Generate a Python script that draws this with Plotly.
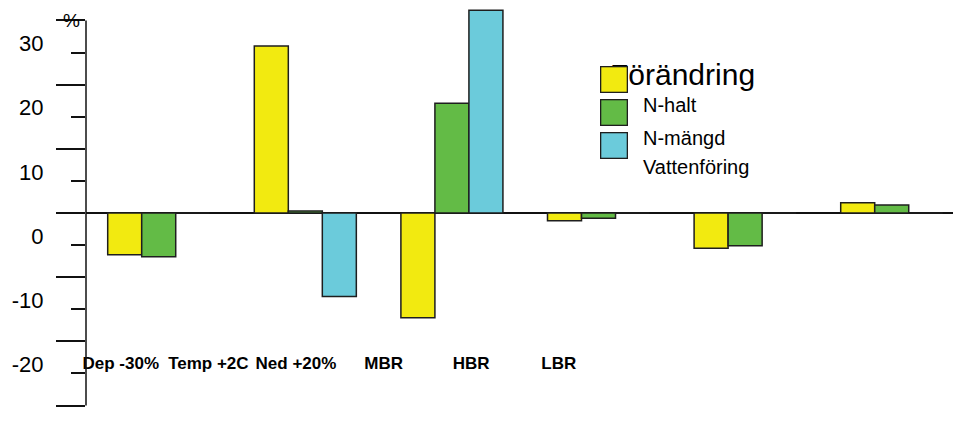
import plotly.graph_objects as go

# Categories and series (percent change)
categories = ["Dep -30%", "Temp +2C", "Ned +20%", "MBR", "HBR", "LBR"]
series_names = ["N-halt", "N-mängd", "Vattenföring"]
n_halt = [-6.5, 26.0, -16.3, -1.2, -5.5, 1.6]
n_mangd = [-6.8, 0.3, 17.1, -0.8, -5.1, 1.25]
vattenforing = [0.0, -13.0, 31.6, 0.0, 0.0, 0.0]
series_colors = ["#F2EA10", "#63BB46", "#6BCBDB"]
legend_title = "Förändring"
y_ticks = [-30, -20, -10, 0, 10, 20, 30]
y_unit = "%"

W, H = 953, 421
ML = 86
PW = W - ML


def px_x(px):
    return (px - ML) / PW


def px_y(py):
    return 1 - py / H


fig = go.Figure()
for name, vals, col in zip(series_names, [n_halt, n_mangd, vattenforing], series_colors):
    fig.add_trace(go.Bar(
        x=categories, y=vals, name=name,
        marker=dict(color=col, line=dict(color="#1e1e1e", width=1.5)),
        showlegend=False,
    ))

# helper trace so the label axis exists
fig.add_trace(go.Scatter(x=categories, y=[None] * len(categories), xaxis="x2",
                         mode="markers", showlegend=False, hoverinfo="skip"))

annotations = []
annotations.append(dict(
    x=px_x(71.5), y=px_y(20), xref="paper", yref="paper", text=y_unit,
    showarrow=False, font=dict(family="Liberation Sans", size=19, color="black"),
    xanchor="center", yanchor="middle"))

# legend title, then swatches drawn above it, then item labels
annotations.append(dict(
    x=px_x(608), y=px_y(74), xref="paper", yref="paper", text=legend_title,
    showarrow=False, font=dict(family="Liberation Sans", size=30, color="black"),
    xanchor="left", yanchor="middle"))
sw_centers = [79.2, 112.3, 145.2]
for col, cy in zip(series_colors, sw_centers):
    annotations.append(dict(
        x=px_x(613.9), y=px_y(cy), xref="paper", yref="paper", text=" ",
        showarrow=False, width=25, height=24, bgcolor=col, bordercolor="#1e1e1e",
        borderwidth=1.3, borderpad=0, xanchor="center", yanchor="middle"))
txt_centers = [103.3, 136.5, 165.5]
for name, cy in zip(series_names, txt_centers):
    annotations.append(dict(
        x=px_x(641), y=px_y(cy + 1.5), xref="paper", yref="paper", text=name,
        showarrow=False, font=dict(family="Liberation Sans", size=20, color="black"),
        xanchor="left", yanchor="middle"))

fig.update_layout(
    width=W, height=H,
    margin=dict(l=ML, r=0, t=0, b=0),
    paper_bgcolor="white", plot_bgcolor="white",
    barmode="group", bargap=0.304, bargroupgap=0,
    xaxis=dict(type="category", range=[-0.496, 5.418], showticklabels=False,
               showgrid=False, zeroline=False, showline=False, ticks=""),
    xaxis2=dict(type="category", overlaying="x", anchor="free", position=px_y(351),
                range=[-0.397, 9.5], showgrid=False, zeroline=False, showline=False,
                ticks="", side="bottom",
                tickfont=dict(family="Liberation Sans", size=17,
                              color="black", weight="bold")),
    yaxis=dict(range=[-32.40, 33.18], tickvals=y_ticks, ticktext=[str(v) for v in y_ticks],
               showgrid=False, showline=False,
               zeroline=True, zerolinecolor="#111", zerolinewidth=1.5,
               ticks="outside", ticklen=29, tickwidth=1.5, tickcolor="#111",
               minor=dict(dtick=5, tick0=0, ticks="outside", ticklen=14, tickwidth=1.5,
                          tickcolor="#111", showgrid=False),
               ticklabelshift=23, ticklabelstandoff=8,
               tickfont=dict(family="Liberation Sans", size=22, color="black")),
    shapes=[dict(type="line", xref="paper", x0=0, x1=0, yref="y", y0=-30, y1=30,
                 line=dict(color="#111", width=1.5))],
    annotations=annotations,
)

fig.write_html("out.html")
